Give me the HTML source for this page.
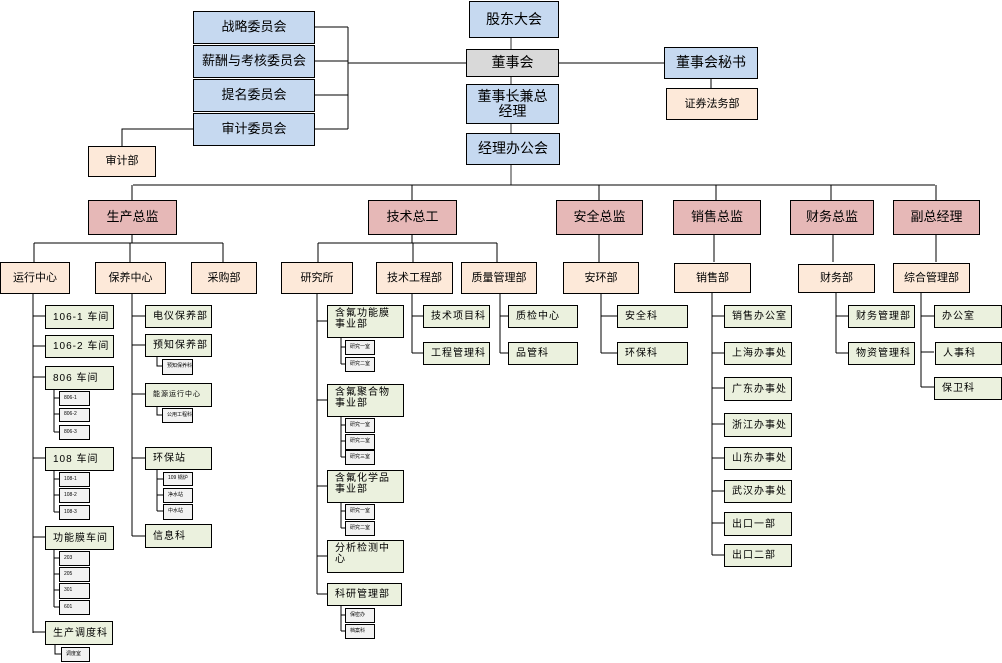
<!DOCTYPE html>
<html><head><meta charset="utf-8"><style>
body{margin:0;background:#fff;width:1002px;height:663px;position:relative;overflow:hidden;font-family:"Liberation Sans","Noto Sans CJK SC",sans-serif;}
.b{position:absolute;border:1px solid #000;box-sizing:border-box;display:flex;align-items:center;justify-content:center;text-align:center;color:#000;line-height:1.1}
.bl{background:#c6d9f0;font-size:13px}
.gr{background:#d9d9d9;font-size:13px}
.pk{background:#e6b8b7;font-size:13px}
.pc{background:#fde9d9;font-size:11px}
.g{background:#ebf1de;font-size:10px;justify-content:flex-start;text-align:left;padding-left:7px;letter-spacing:1px}
.s{background:#f2f2f2;font-size:5px;justify-content:flex-start;padding-left:4px}
svg{position:absolute;left:0;top:0}
</style></head><body>
<svg width="1002" height="663" stroke="#000" stroke-width="1" fill="none">
<line x1="511" y1="37" x2="511" y2="185" stroke="#777" stroke-width="1.5"/>
<path d="M314 27H348M314 61H348M314 95H348M314 129H348M348 27V129M348 63H466M558 63H664M711 78V88M193 129H122V146"/>
<path d="M133 185H935M132 185V200M412 185V200M599 185V200M716 185V200M831 185V200M936 185V200"/>
<path d="M132 234V243M34 243H223M34 243V262M130 243V262M223 243V262"/>
<path d="M412 234V243M318 243H497M318 243V262M413 243V262M497 243V262"/>
<path d="M599 234V262M714 234V262M833 234V262M936 234V262"/>
<path d="M33 293V633M33 316H45M33 346H45M33 377H45M33 458H45M33 537H45M33 632H45"/>
<path d="M54 389V432M54 398H59M54 414H59M54 432H59M54 470V512M54 479H59M54 495H59M54 512H59M54 549V607M54 558H59M54 574H59M54 590H59M54 607H59M55 644V654H61"/>
<path d="M132 293V536M132 316H145M132 345H145M132 394H145M132 458H145M132 536H145"/>
<path d="M157 356V366H162M157 406V415H162M157 469V511M157 479H163M157 495H163M157 511H163"/>
<path d="M317 293V594M317 321H327M317 400H327M317 486H327M317 556H327M317 594H327"/>
<path d="M341 337V364M341 347H345M341 364H345M341 416V457M341 425H345M341 441H345M341 457H345M341 502V528M341 511H345M341 528H345M341 605V631M341 615H345M341 631H345"/>
<path d="M412 293V353M412 316H423M412 353H423M500 293V353M500 316H508M500 353H508M601 293V353M601 316H617M601 353H617"/>
<path d="M712 293V555M712 316H724M712 353H724M712 388H724M712 424H724M712 458H724M712 491H724M712 523H724M712 555H724"/>
<path d="M836 293V353M836 316H848M836 353H848M921 293V387M921 316H934M921 352H934M921 387H934"/>
</svg>
<div class="b bl" style="left:193px;top:11px;width:122px;height:33px">战略委员会</div>
<div class="b bl" style="left:193px;top:45px;width:122px;height:33px">薪酬与考核委员会</div>
<div class="b bl" style="left:193px;top:79px;width:122px;height:33px">提名委员会</div>
<div class="b bl" style="left:193px;top:113px;width:122px;height:33px">审计委员会</div>
<div class="b pc" style="left:88px;top:146px;width:68px;height:31px">审计部</div>
<div class="b bl" style="left:469px;top:1px;width:90px;height:37px;font-size:14px">股东大会</div>
<div class="b gr" style="left:466px;top:49px;width:93px;height:28px;font-size:14px">董事会</div>
<div class="b bl" style="left:466px;top:84px;width:93px;height:40px;font-size:14px">董事长兼总<br>经理</div>
<div class="b bl" style="left:466px;top:133px;width:94px;height:32px;font-size:14px">经理办公会</div>
<div class="b bl" style="left:664px;top:47px;width:94px;height:32px;font-size:14px">董事会秘书</div>
<div class="b pc" style="left:666px;top:88px;width:92px;height:32px">证券法务部</div>
<div class="b pk" style="left:88px;top:200px;width:89px;height:35px">生产总监</div>
<div class="b pk" style="left:368px;top:200px;width:89px;height:35px">技术总工</div>
<div class="b pk" style="left:556px;top:200px;width:87px;height:35px">安全总监</div>
<div class="b pk" style="left:673px;top:200px;width:88px;height:35px">销售总监</div>
<div class="b pk" style="left:790px;top:200px;width:84px;height:35px">财务总监</div>
<div class="b pk" style="left:893px;top:200px;width:87px;height:35px">副总经理</div>
<div class="b pc" style="left:0px;top:262px;width:70px;height:32px">运行中心</div>
<div class="b pc" style="left:95px;top:262px;width:71px;height:32px">保养中心</div>
<div class="b pc" style="left:191px;top:262px;width:66px;height:32px">采购部</div>
<div class="b pc" style="left:281px;top:262px;width:72px;height:32px">研究所</div>
<div class="b pc" style="left:376px;top:262px;width:77px;height:32px">技术工程部</div>
<div class="b pc" style="left:461px;top:262px;width:76px;height:32px">质量管理部</div>
<div class="b pc" style="left:563px;top:262px;width:76px;height:32px">安环部</div>
<div class="b pc" style="left:674px;top:263px;width:77px;height:30px">销售部</div>
<div class="b pc" style="left:798px;top:264px;width:77px;height:29px">财务部</div>
<div class="b pc" style="left:893px;top:263px;width:77px;height:30px">综合管理部</div>

<div class="b g" style="left:45px;top:305px;width:69px;height:24px">106-1 车间</div>
<div class="b g" style="left:45px;top:335px;width:69px;height:23px">106-2 车间</div>
<div class="b g" style="left:45px;top:366px;width:69px;height:24px">806 车间</div>
<div class="b s" style="left:59px;top:391px;width:31px;height:15px">806-1</div>
<div class="b s" style="left:59px;top:408px;width:31px;height:14px">806-2</div>
<div class="b s" style="left:59px;top:425px;width:31px;height:15px">806-3</div>
<div class="b g" style="left:45px;top:447px;width:69px;height:24px">108 车间</div>
<div class="b s" style="left:59px;top:472px;width:31px;height:15px">108-1</div>
<div class="b s" style="left:59px;top:488px;width:31px;height:15px">108-2</div>
<div class="b s" style="left:59px;top:505px;width:31px;height:15px">108-3</div>
<div class="b g" style="left:45px;top:526px;width:69px;height:24px">功能膜车间</div>
<div class="b s" style="left:59px;top:551px;width:31px;height:15px">203</div>
<div class="b s" style="left:59px;top:567px;width:31px;height:15px">205</div>
<div class="b s" style="left:59px;top:583px;width:31px;height:16px">301</div>
<div class="b s" style="left:59px;top:600px;width:31px;height:15px">601</div>
<div class="b g" style="left:45px;top:621px;width:68px;height:24px">生产调度科</div>
<div class="b s" style="left:61px;top:647px;width:29px;height:15px">调度室</div>

<div class="b g" style="left:145px;top:305px;width:67px;height:23px">电仪保养部</div>
<div class="b g" style="left:145px;top:334px;width:67px;height:23px">预知保养部</div>
<div class="b s" style="left:162px;top:359px;width:31px;height:16px">预知保养科</div>
<div class="b g" style="left:145px;top:383px;width:67px;height:24px;font-size:7px">能源运行中心</div>
<div class="b s" style="left:162px;top:408px;width:31px;height:15px">公用工程科</div>
<div class="b g" style="left:145px;top:447px;width:67px;height:23px">环保站</div>
<div class="b s" style="left:163px;top:472px;width:30px;height:14px">109 锅炉</div>
<div class="b s" style="left:163px;top:488px;width:30px;height:15px">净水站</div>
<div class="b s" style="left:163px;top:504px;width:30px;height:16px">中水站</div>
<div class="b g" style="left:145px;top:524px;width:67px;height:24px">信息科</div>

<div class="b g" style="left:327px;top:305px;width:77px;height:33px;align-items:flex-start;padding-top:2px">含氟功能膜<br>事业部</div>
<div class="b s" style="left:345px;top:340px;width:30px;height:15px">研究一室</div>
<div class="b s" style="left:345px;top:357px;width:30px;height:15px">研究二室</div>
<div class="b g" style="left:327px;top:384px;width:77px;height:33px;align-items:flex-start;padding-top:2px">含氟聚合物<br>事业部</div>
<div class="b s" style="left:345px;top:418px;width:30px;height:15px">研究一室</div>
<div class="b s" style="left:345px;top:434px;width:30px;height:16px">研究二室</div>
<div class="b s" style="left:345px;top:450px;width:30px;height:15px">研究三室</div>
<div class="b g" style="left:327px;top:470px;width:77px;height:33px;align-items:flex-start;padding-top:2px">含氟化学品<br>事业部</div>
<div class="b s" style="left:345px;top:504px;width:30px;height:16px">研究一室</div>
<div class="b s" style="left:345px;top:521px;width:30px;height:15px">研究二室</div>
<div class="b g" style="left:327px;top:540px;width:77px;height:33px;align-items:flex-start;padding-top:2px">分析检测中<br>心</div>
<div class="b g" style="left:327px;top:583px;width:75px;height:23px">科研管理部</div>
<div class="b s" style="left:345px;top:608px;width:30px;height:15px">保密办</div>
<div class="b s" style="left:345px;top:624px;width:30px;height:15px">档案科</div>

<div class="b g" style="left:423px;top:305px;width:67px;height:23px">技术项目科</div>
<div class="b g" style="left:423px;top:342px;width:67px;height:23px">工程管理科</div>
<div class="b g" style="left:508px;top:305px;width:70px;height:23px">质检中心</div>
<div class="b g" style="left:508px;top:342px;width:70px;height:23px">品管科</div>
<div class="b g" style="left:617px;top:305px;width:71px;height:23px">安全科</div>
<div class="b g" style="left:617px;top:342px;width:71px;height:23px">环保科</div>

<div class="b g" style="left:724px;top:305px;width:68px;height:23px">销售办公室</div>
<div class="b g" style="left:724px;top:342px;width:68px;height:23px">上海办事处</div>
<div class="b g" style="left:724px;top:377px;width:68px;height:24px">广东办事处</div>
<div class="b g" style="left:724px;top:413px;width:68px;height:24px">浙江办事处</div>
<div class="b g" style="left:724px;top:447px;width:68px;height:23px">山东办事处</div>
<div class="b g" style="left:724px;top:480px;width:68px;height:23px">武汉办事处</div>
<div class="b g" style="left:724px;top:512px;width:68px;height:24px">出口一部</div>
<div class="b g" style="left:724px;top:544px;width:68px;height:23px">出口二部</div>

<div class="b g" style="left:848px;top:305px;width:67px;height:23px">财务管理部</div>
<div class="b g" style="left:848px;top:342px;width:67px;height:23px">物资管理科</div>
<div class="b g" style="left:934px;top:305px;width:68px;height:23px">办公室</div>
<div class="b g" style="left:935px;top:342px;width:67px;height:23px">人事科</div>
<div class="b g" style="left:934px;top:377px;width:68px;height:23px">保卫科</div>
</body></html>
